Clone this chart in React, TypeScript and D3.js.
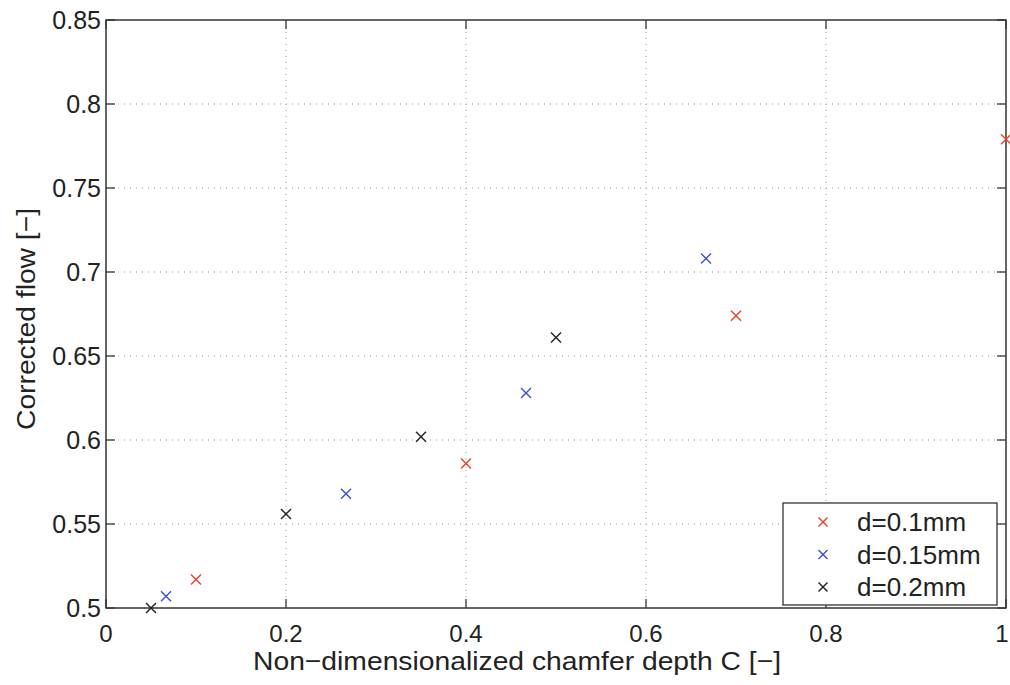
import React from "react";
import * as d3 from "d3";

const seriesNames = ["d=0.1mm", "d=0.15mm", "d=0.2mm"];
const seriesColors = ["#e8432a", "#3553c8", "#222222"];
const redX = [0.1, 0.4, 0.7, 1.0];
const redY = [0.517, 0.586, 0.674, 0.779];
const blueX = [0.0667, 0.2667, 0.4667, 0.6667];
const blueY = [0.507, 0.568, 0.628, 0.708];
const blackX = [0.05, 0.2, 0.35, 0.5];
const blackY = [0.5, 0.556, 0.602, 0.661];
const xTicks = [0, 0.2, 0.4, 0.6, 0.8, 1];
const yTicks = [0.5, 0.55, 0.6, 0.65, 0.7, 0.75, 0.8, 0.85];

const W = 1010, H = 685;
const left = 106, right = 1006, top = 20, bottom = 608;
const font = "'Liberation Sans', Arial, Helvetica, sans-serif";

export default function App() {
  const x = d3.scaleLinear().domain([0, 1]).range([left, right]);
  const y = d3.scaleLinear().domain([0.5, 0.85]).range([bottom, top]);
  const series = [
    { xs: redX, ys: redY },
    { xs: blueX, ys: blueY },
    { xs: blackX, ys: blackY },
  ];
  const ms = 5;
  const cross = (cx: number, cy: number, c: string, k: string, s = ms) => (
    <g key={k} stroke={c} strokeWidth={1.4}>
      <line x1={cx - s} y1={cy - s} x2={cx + s} y2={cy + s} />
      <line x1={cx - s} y1={cy + s} x2={cx + s} y2={cy - s} />
    </g>
  );
  const fmt = (v: number) => (v === 0 ? "0" : v === 1 ? "1" : String(v));
  const tl = 9;
  const lgX = 783, lgY = 503, lgW = 214, lgH = 102;
  return (
    <svg width={W} height={H} style={{ position: "absolute", left: 0, top: 0, background: "#fff" }}>
      <rect x={0} y={0} width={W} height={H} fill="#fff" />
      {xTicks.slice(1, -1).map((t) => (
        <line key={"gx" + t} x1={x(t)} x2={x(t)} y1={top} y2={bottom} stroke="#999" strokeWidth={1} strokeDasharray="1 5" />
      ))}
      {yTicks.slice(1, -1).map((t) => (
        <line key={"gy" + t} x1={left} x2={right} y1={y(t)} y2={y(t)} stroke="#999" strokeWidth={1} strokeDasharray="1 5" />
      ))}
      <rect x={left} y={top} width={right - left} height={bottom - top} fill="none" stroke="#333" strokeWidth={1.5} />
      {xTicks.map((t) => (
        <g key={"tx" + t} stroke="#333" strokeWidth={1.3}>
          <line x1={x(t)} x2={x(t)} y1={bottom} y2={bottom - tl} />
          <line x1={x(t)} x2={x(t)} y1={top} y2={top + tl} />
        </g>
      ))}
      {yTicks.map((t) => (
        <g key={"ty" + t} stroke="#333" strokeWidth={1.3}>
          <line x1={left} x2={left + tl} y1={y(t)} y2={y(t)} />
          <line x1={right} x2={right - tl} y1={y(t)} y2={y(t)} />
        </g>
      ))}
      {xTicks.map((t) => (
        <text key={"lx" + t} x={Math.min(x(t), W - 8)} y={642} textAnchor="middle" fontFamily={font} fontSize={24} fill="#222">
          {fmt(t)}
        </text>
      ))}
      {yTicks.map((t) => (
        <text key={"ly" + t} x={left - 5} y={y(t) + 9} textAnchor="end" fontFamily={font} fontSize={25} fill="#222">
          {fmt(t)}
        </text>
      ))}
      <text x={517} y={670} textAnchor="middle" fontFamily={font} fontSize={26} textLength={528} lengthAdjust="spacingAndGlyphs" fill="#222">
        Non−dimensionalized chamfer depth C [−]
      </text>
      <text transform={`translate(35, 319) rotate(-90)`} textAnchor="middle" fontFamily={font} fontSize={26} textLength={222} lengthAdjust="spacingAndGlyphs" fill="#222">
        Corrected flow [−]
      </text>
      {series.map((s, i) => s.xs.map((xv, j) => cross(x(xv), y(s.ys[j]), seriesColors[i], `p${i}-${j}`)))}
      <rect x={lgX} y={lgY} width={lgW} height={lgH} fill="#fff" stroke="#333" strokeWidth={1.3} />
      {seriesNames.map((n, i) => (
        <g key={"lg" + i}>
          {cross(823, lgY + 19 + i * 32.5, seriesColors[i], "lc" + i, 4.5)}
          <text x={857} y={lgY + 28 + i * 32.5} fontFamily={font} fontSize={26} fill="#222">
            {n}
          </text>
        </g>
      ))}
    </svg>
  );
}
